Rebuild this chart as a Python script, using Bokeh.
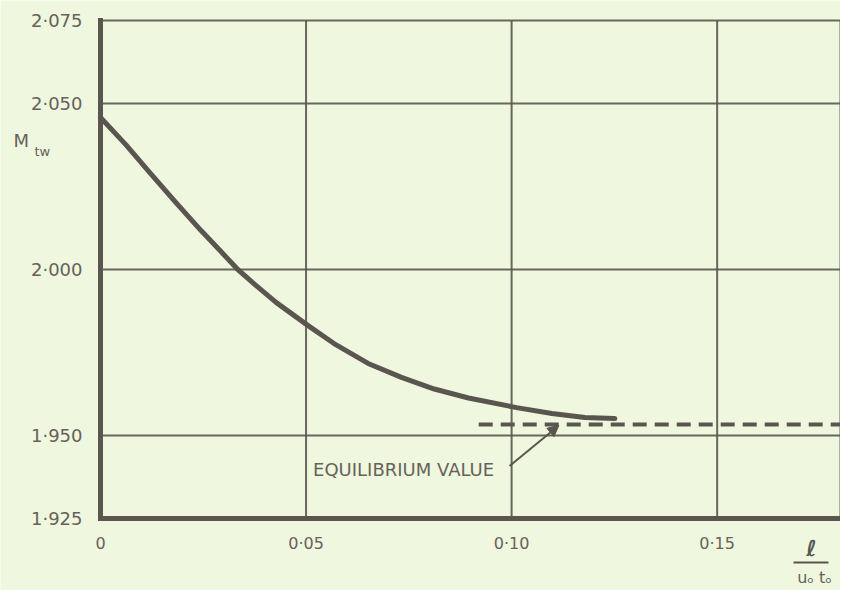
from bokeh.plotting import figure
from bokeh.models import (FixedTicker, Label, Arrow, NormalHead, Range1d,
                          LinearAxis, BoxAnnotation)
from bokeh.embed import file_html
from bokeh.resources import INLINE

# ---- data ----
curve_x = [0.0, 0.0061, 0.0122, 0.0183, 0.0244, 0.0293, 0.0334, 0.0378,
           0.0427, 0.0505, 0.0568, 0.0651, 0.0732, 0.0812, 0.0895, 0.1012,
           0.1098, 0.1178, 0.1251]
curve_y = [2.0458, 2.0377, 2.0289, 2.0202, 2.0118, 2.0054, 2.0000, 1.9952,
           1.9901, 1.9831, 1.9777, 1.9717, 1.9675, 1.9640, 1.9613, 1.9584,
           1.9566, 1.9554, 1.9551]
equil_x = [0.092, 0.18]
equil_y = [1.9533, 1.9533]

x_ticks = [0.0, 0.05, 0.10, 0.15]
x_tick_labels = ["0", "0·05", "0·10", "0·15"]
y_ticks = [1.925, 1.950, 2.000, 2.050, 2.075]
y_tick_labels = ["1·925", "1·950", "2·000", "2·050", "2·075"]

note_text = "EQUILIBRIUM VALUE"
note_x, note_y = 0.0517, 1.9399
arrow_tail = (0.0995, 1.9408)
arrow_head = (0.1115, 1.9530)

# ---- plot box geometry ----
X_MIN, X_MAX = 0.0, 0.18
Y_MIN, Y_MAX = 1.925, 2.075
W, H = 840, 590
BOX_LEFT, BOX_TOP, BOX_BOTTOM = 100, 20, 518           # pixels
px_per_x = (W - BOX_LEFT) / (X_MAX - X_MIN)
px_per_y = (BOX_BOTTOM - BOX_TOP) / (Y_MAX - Y_MIN)

INK = "#5a564f"
TXT = "#66625a"
BG = "#eff7df"
FONT = "DejaVu Sans"

p = figure(width=W, height=H, output_backend="svg", toolbar_location=None,
           x_axis_type=None, y_axis_type=None, min_border=0,
           x_range=Range1d(X_MIN - BOX_LEFT / px_per_x, X_MAX),
           y_range=Range1d(Y_MIN - (H - BOX_BOTTOM) / px_per_y,
                           Y_MAX + BOX_TOP / px_per_y))
p.background_fill_color = BG
p.border_fill_color = BG
p.outline_line_color = None

# grid lines, limited to the box (incl. its top and right border)
vx = x_ticks[1:] + [X_MAX]
p.segment(x0=vx, y0=[Y_MIN] * len(vx), x1=vx, y1=[Y_MAX] * len(vx),
          line_color=INK, line_width=2, line_alpha=0.9, level="underlay")
hy = y_ticks[1:]
p.segment(x0=[X_MIN] * len(hy), y0=hy, x1=[X_MAX] * len(hy), y1=hy,
          line_color=INK, line_width=2, line_alpha=0.9, level="underlay")

xaxis = LinearAxis(fixed_location=Y_MIN, bounds=(X_MIN, X_MAX),
                   ticker=FixedTicker(ticks=x_ticks),
                   major_label_overrides=dict(zip(x_ticks, x_tick_labels)))
yaxis = LinearAxis(fixed_location=X_MIN, bounds=(Y_MIN, Y_MAX),
                   ticker=FixedTicker(ticks=y_ticks),
                   major_label_overrides=dict(zip(y_ticks, y_tick_labels)))
for ax in (xaxis, yaxis):
    ax.axis_line_color = INK
    ax.axis_line_width = 5
    ax.axis_line_cap = "square"
    ax.major_tick_line_color = None
    ax.minor_tick_line_color = None
    ax.major_label_text_color = TXT
    ax.major_label_text_font = FONT
xaxis.major_label_standoff = 9
xaxis.major_label_text_font_size = "16px"
yaxis.major_label_standoff = 12
yaxis.major_label_text_font_size = "18px"
p.add_layout(xaxis, "below")
p.add_layout(yaxis, "left")

p.line(curve_x, curve_y, line_color=INK, line_width=5, line_cap="round",
       line_join="round")
p.line(equil_x, equil_y, line_color=INK, line_width=4, line_dash="14 8")

p.add_layout(Label(x=note_x, y=note_y, text=note_text, text_font=FONT,
                   text_font_size="18px", text_color=TXT,
                   text_baseline="middle"))
p.add_layout(Arrow(x_start=arrow_tail[0], y_start=arrow_tail[1],
                   x_end=arrow_head[0], y_end=arrow_head[1],
                   line_color=INK, line_width=2,
                   end=NormalHead(size=11, fill_color=INK, line_color=INK)))

# axis titles (screen units from the canvas' bottom-left corner)
p.add_layout(Label(x=13, y=H - 140, x_units="screen", y_units="screen",
                   text="M", text_font=FONT, text_font_size="18px",
                   text_color=TXT, text_baseline="middle"))
p.add_layout(Label(x=34, y=H - 151, x_units="screen", y_units="screen",
                   text="tw", text_font=FONT, text_font_size="13px",
                   text_color=TXT, text_baseline="middle"))
p.add_layout(Label(x=811, y=H - 548, x_units="screen", y_units="screen",
                   text="ℓ", text_font=FONT, text_font_size="22px",
                   text_font_style="bold", text_color=INK,
                   text_align="center", text_baseline="middle"))
p.add_layout(BoxAnnotation(left=793, right=828, bottom=H - 563, top=H - 561,
                           left_units="screen", right_units="screen",
                           bottom_units="screen", top_units="screen",
                           fill_color=INK, fill_alpha=1.0, line_color=None))
p.add_layout(Label(x=814, y=H - 577, x_units="screen", y_units="screen",
                   text="uₒ tₒ", text_font=FONT, text_font_size="16px",
                   text_color=TXT, text_align="center",
                   text_baseline="middle"))

open("out.html", "w").write(file_html(p, INLINE))
